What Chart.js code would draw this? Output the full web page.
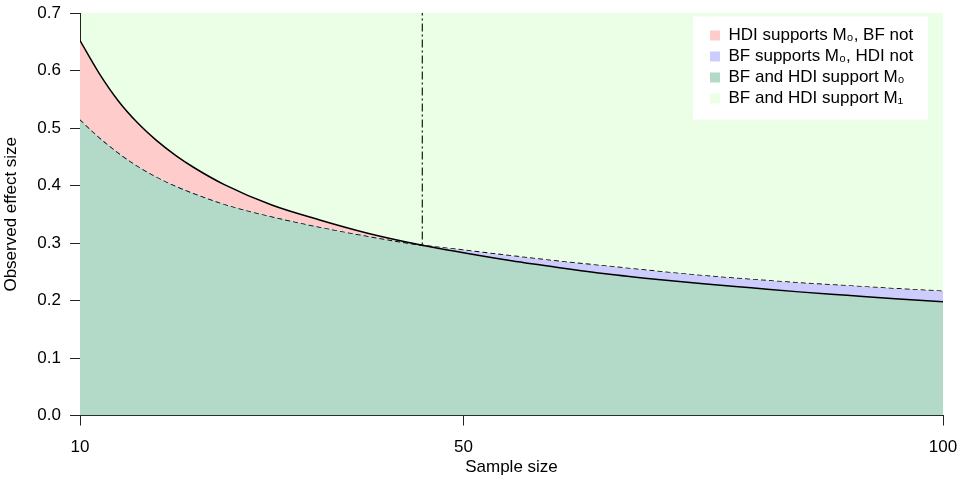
<!DOCTYPE html>
<html>
<head>
<meta charset="utf-8">
<script src="https://cdn.jsdelivr.net/npm/chart.js@4"></script>
<style>
  body { margin: 0; background: #fff; }
  #chart { display: block; }
</style>
</head>
<body>
<canvas id="chart" width="960" height="480"></canvas>
<script>
// sample sizes (x) and the two decision boundaries
const sampleSizes = [10, 12, 14, 16, 18, 20, 22, 25, 30, 35, 40, 45.7, 50, 55, 60, 65, 70, 75, 80, 85, 90, 95, 100];
const hdiBound = [0.652, 0.595, 0.547, 0.509, 0.478, 0.452, 0.430, 0.402, 0.366, 0.340, 0.317, 0.296, 0.283, 0.269, 0.257, 0.246, 0.237, 0.229, 0.222, 0.215, 0.209, 0.203, 0.198];
const bfBound = [0.515, 0.484, 0.457, 0.434, 0.415, 0.399, 0.3855, 0.368, 0.346, 0.328, 0.312, 0.296, 0.2875, 0.2775, 0.268, 0.2595, 0.251, 0.243, 0.2365, 0.2305, 0.2255, 0.2205, 0.216];
const crossover = 45.7;
const xTicks = [10, 50, 100];
const legendLabels = ['HDI supports M\u2080, BF not', 'BF supports M\u2080, HDI not', 'BF and HDI support M\u2080', 'BF and HDI support M\u2081'];

const PINK = '#ffcccc';
const LAVENDER = '#ccccff';
const DARK_GREEN = '#b3d9c9';
const LIGHT_GREEN = '#eaffe6';
const legendColors = [PINK, LAVENDER, DARK_GREEN, LIGHT_GREEN];

const FONT = "'Liberation Sans', Arial, sans-serif";
Chart.defaults.font.family = FONT;
Chart.defaults.font.size = 17;
Chart.defaults.color = '#000';

const toPoints = (ys) => sampleSizes.map((x, i) => ({x: x, y: ys[i]}));

// light green background + white legend box behind the legend
const regions = {
  id: 'regions',
  beforeDraw(chart) {
    const {ctx, chartArea: a} = chart;
    ctx.save();
    ctx.fillStyle = LIGHT_GREEN;
    ctx.fillRect(a.left, a.top, a.right - a.left, a.bottom - a.top);
    ctx.restore();
  },
  afterLayout(chart) {
    const lg = chart.legend, a = chart.chartArea;
    lg.left = a.right - 237;
    lg.top = a.top + 10;
    lg.right = lg.left + 230;
    lg.bottom = lg.top + 110;
  },
  afterDatasetsDraw(chart) {
    const {ctx} = chart, lg = chart.legend;
    ctx.save();
    ctx.fillStyle = '#fff';
    ctx.fillRect(lg.left - 13, lg.top - 6.5, 235, 103);
    ctx.restore();
    lg.draw();
  }
};

new Chart(document.getElementById('chart'), {
  type: 'line',
  data: {
    datasets: [
      {
        label: 'HDI',
        data: toPoints(hdiBound),
        borderColor: '#000',
        borderWidth: 1.5,
        pointRadius: 0,
        cubicInterpolationMode: 'monotone',
        fill: {target: 1, above: PINK, below: LAVENDER}
      },
      {
        label: 'BF',
        data: toPoints(bfBound),
        borderColor: '#000',
        borderWidth: 1.5,
        borderDash: [5, 3],
        pointRadius: 0,
        cubicInterpolationMode: 'monotone',
        fill: {target: 'origin', above: DARK_GREEN}
      },
      {
        label: 'crossover',
        data: [{x: crossover, y: 0}, {x: crossover, y: 0.7}],
        borderColor: '#1f3328',
        borderWidth: 1.3,
        borderDash: [8, 3, 2, 3],
        pointRadius: 0,
        fill: false
      }
    ]
  },
  options: {
    responsive: false,
    animation: false,
    layout: {padding: {top: 13, right: 17, left: 0, bottom: 0}},
    plugins: {
      tooltip: {enabled: false},
      legend: {
        position: 'chartArea',
        align: 'start',
        labels: {
          boxWidth: 10,
          boxHeight: 10,
          padding: 4,
          textAlign: 'left',
          font: {size: 17},
          color: '#000',
          generateLabels: () => legendLabels.map((t, i) => ({
            text: t,
            fillStyle: legendColors[i],
            strokeStyle: legendColors[i],
            lineWidth: 0,
            hidden: false
          }))
        }
      }
    },
    scales: {
      x: {
        type: 'linear',
        min: 10,
        max: 100,
        z: 1,
        afterBuildTicks: (s) => { s.ticks = xTicks.map(v => ({value: v})); },
        afterFit: (s) => { s.height = 64.5; s.paddingLeft = 0; s.paddingRight = 0; },
        grid: {drawOnChartArea: false, drawTicks: true, tickLength: 10, tickColor: '#222'},
        border: {display: true, color: '#222', width: 1},
        ticks: {padding: 12, maxRotation: 0, callback: (v) => String(v)},
        title: {display: true, text: 'Sample size', padding: {top: 0, bottom: 2}}
      },
      y: {
        min: 0,
        max: 0.7,
        z: 1,
        afterFit: (s) => { s.width = 80; s.paddingTop = 0; s.paddingBottom = 0; },
        grid: {drawOnChartArea: false, drawTicks: true, tickLength: 10, tickColor: '#222'},
        border: {display: true, color: '#222', width: 1},
        ticks: {stepSize: 0.1, padding: 9, callback: (v) => v.toFixed(1)},
        title: {display: true, text: 'Observed effect size', padding: {top: 1, bottom: 0}}
      }
    }
  },
  plugins: [regions]
});
</script>
</body>
</html>
